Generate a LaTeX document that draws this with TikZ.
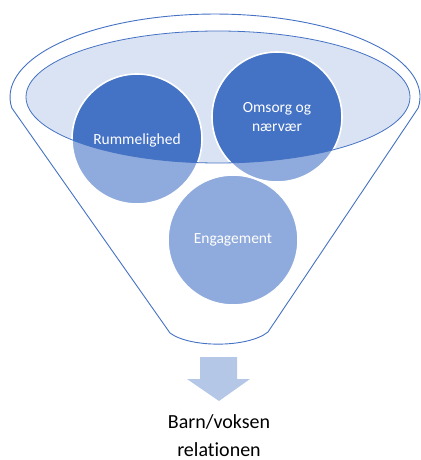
\documentclass[tikz,border=0pt]{standalone}
\usepackage{fontspec}
\setmainfont{Carlito}[Ligatures=NoCommon]
\definecolor{dblue}{HTML}{4472C4}
\definecolor{lblue}{HTML}{8FAADC}
\definecolor{pale}{HTML}{DAE3F3}
\definecolor{arrowc}{HTML}{B4C7E7}
\begin{document}
\begin{tikzpicture}[x=1pt,y=-1pt,
  outl/.style={draw=dblue,line width=0.9pt},
  ctext/.style={text=white,font=\fontsize{15.5}{19}\selectfont,align=center,inner sep=0pt},
  btext/.style={text=black,font=\fontsize{20}{28}\selectfont,align=center,inner sep=0pt}]
\useasboundingbox (0,0) rectangle (420,460);
% funnel outline
\coordinate (fr) at (418.2,108);
\coordinate (fl) at (170,333);
\coordinate (fbr) at (268,332);
\draw[outl,fill=white] (fr) arc[start angle=7.6,end angle=-187.6,x radius=205,y radius=83]
  -- (fl) .. controls (190,348) and (248,348) .. (fbr) -- cycle;
% inner ellipse
\fill[pale] (218,97) ellipse[x radius=192,y radius=66];
% circles
\foreach \c in {(137,139),(277,117),(233,240)}{
  \fill[lblue] \c circle[radius=65];
}
\begin{scope}
\clip (218,97) ellipse[x radius=192,y radius=66];
\foreach \c in {(137,139),(277,117)}{
  \fill[dblue] \c circle[radius=65];
}
\end{scope}
\foreach \c in {(137,139),(277,117),(233,240)}{
  \draw[white,line width=1.6pt] \c circle[radius=65];
}
\draw[draw=dblue,line width=0.8pt] (218,97) ellipse[x radius=192,y radius=66];
% texts
\node[ctext] (r) at (137,140) {Rummelighed};
\node[ctext] (o) at (277,117) {Omsorg og\\nærvær};
\node[ctext] (e) at (233,240) {Engagement};
% arrow
\fill[arrowc] (200,357) -- (237,357) -- (237,379) -- (250,379) -- (219,401) -- (187,379) -- (200,379) -- cycle;
\node[btext,anchor=north] (b) at (219,414) {Barn/voksen\\relationen};
\end{tikzpicture}
\end{document}
